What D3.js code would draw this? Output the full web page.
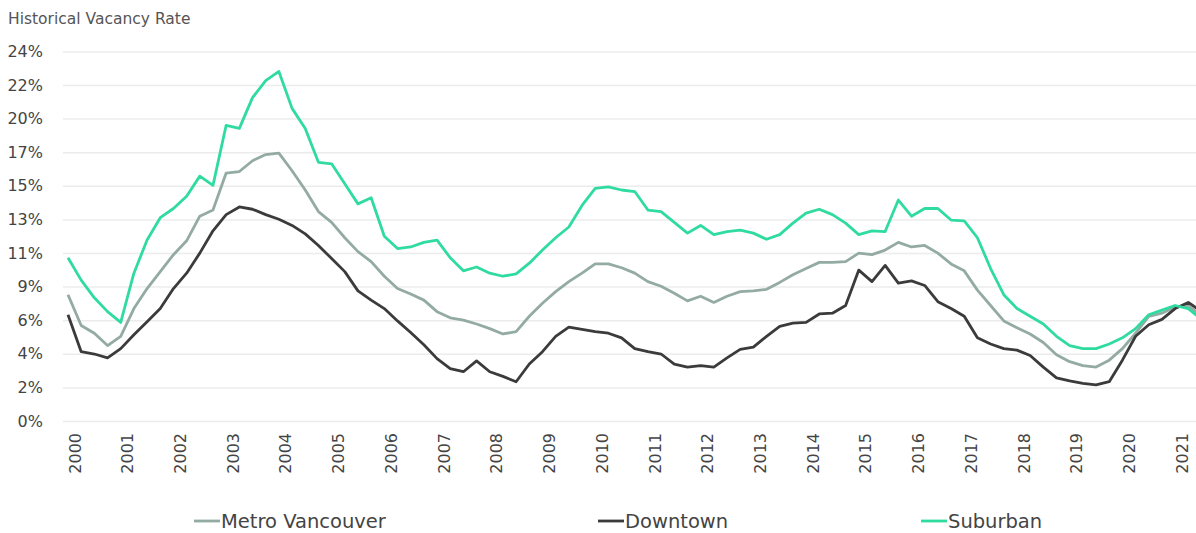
<!DOCTYPE html>
<html>
<head>
<meta charset="utf-8">
<script src="https://cdn.jsdelivr.net/npm/d3@7/dist/d3.min.js"></script>
<style>
  body { margin: 0; background: #fff; }
  svg { display: block; font-family: "DejaVu Sans", sans-serif; }
</style>
</head>
<body>
<script>
// quarterly readings, 2000 Q1 .. 2021 Q3
const years = [2000, 2001, 2002, 2003, 2004, 2005, 2006, 2007, 2008, 2009, 2010,
               2011, 2012, 2013, 2014, 2015, 2016, 2017, 2018, 2019, 2020, 2021];

const yTickLabels = ["0%", "2%", "4%", "6%", "9%", "11%", "13%", "15%", "17%", "20%", "22%", "24%"];

const metro = [
  8.2, 6.2, 5.7, 4.9,   5.5, 7.3, 8.6, 9.7,   10.8, 11.7, 13.3, 13.7,
  16.1, 16.2, 16.9, 17.3,   17.4, 16.25, 15.0, 13.6,   12.9, 11.9, 11.0, 10.35,
  9.4, 8.6, 8.25, 7.85,   7.1, 6.7, 6.55, 6.3,   6.0, 5.65, 5.8, 6.8,
  7.65, 8.4, 9.05, 9.6,   10.2, 10.2, 9.95, 9.6,   9.05, 8.75, 8.3, 7.8,
  8.1, 7.7, 8.1, 8.4,   8.45, 8.55, 9.0, 9.5,   9.9, 10.3, 10.3, 10.35,
  10.9, 10.8, 11.1, 11.6,   11.3, 11.4, 10.9, 10.2,   9.75, 8.5, 7.5, 6.5,
  6.05, 5.65, 5.1, 4.3,   3.85, 3.6, 3.5, 3.95,   4.7, 5.7, 6.8, 7.0,
  7.4, 7.5, 6.8
];

const downtown = [
  6.9, 4.5, 4.35, 4.1,   4.7, 5.6, 6.45, 7.3,   8.6, 9.6, 10.9, 12.35,
  13.4, 13.9, 13.75, 13.4,   13.1, 12.7, 12.15, 11.4,   10.55, 9.7, 8.45, 7.85,
  7.3, 6.5, 5.75, 4.95,   4.05, 3.4, 3.2, 3.9,   3.2, 2.9, 2.55, 3.7,
  4.5, 5.5, 6.1, 5.95,   5.8, 5.7, 5.4, 4.7,   4.5, 4.35, 3.7, 3.5,
  3.6, 3.5, 4.1, 4.65,   4.8, 5.5, 6.15, 6.35,   6.4, 6.95, 7.0, 7.5,
  9.8, 9.05, 10.1, 8.95,   9.1, 8.8, 7.75, 7.3,   6.8, 5.4, 5.0, 4.7,
  4.6, 4.25, 3.5, 2.8,   2.6, 2.45, 2.35, 2.55,   3.95, 5.5, 6.25, 6.6,
  7.3, 7.7, 7.1
];

const suburban = [
  10.6, 9.15, 8.0, 7.1,   6.4, 9.6, 11.75, 13.2,   13.8, 14.6, 15.9, 15.3,
  19.2, 19.0, 21.0, 22.1,   22.7, 20.3, 19.0, 16.8,   16.7, 15.4, 14.1, 14.5,
  12.0, 11.2, 11.3, 11.6,   11.75, 10.6, 9.75, 10.0,   9.6, 9.4, 9.55, 10.25,
  11.1, 11.9, 12.6, 14.0,   15.1, 15.2, 15.0, 14.9,   13.7, 13.6, 12.9, 12.2,
  12.7, 12.1, 12.3, 12.4,   12.2, 11.8, 12.1, 12.85,   13.5, 13.75, 13.4, 12.85,
  12.1, 12.35, 12.3, 14.35,   13.3, 13.8, 13.8, 13.05,   13.0, 11.9, 9.9, 8.2,
  7.3, 6.8, 6.3, 5.5,   4.9, 4.7, 4.7, 5.0,   5.4, 6.0, 6.9, 7.2,
  7.5, 7.3, 6.6
];

const series = [
  { name: "Metro Vancouver", values: metro, color: "#93aba3" },
  { name: "Downtown", values: downtown, color: "#3b3b3b" },
  { name: "Suburban", values: suburban, color: "#30dba0" }
];

const width = 1196, height = 533;
const plotLeft = 63, plotRight = 1196, plotTop = 51.4, plotBottom = 421;

const svg = d3.select("body").append("svg")
  .attr("width", width)
  .attr("height", height);

const x = d3.scaleLinear().domain([0, 86]).range([68, 68 + 86 * 13.18]);
const y = d3.scaleLinear().domain([0, 24]).range([plotBottom, plotTop]);
const yTicks = yTickLabels.map((d, i) => i * 24 / (yTickLabels.length - 1));

// title
svg.append("text")
  .attr("x", 8).attr("y", 24)
  .attr("font-size", 15.5)
  .attr("fill", "#555")
  .text("Historical Vacancy Rate");

// gridlines + y labels
const yAxis = svg.append("g")
  .attr("transform", `translate(${plotLeft},0)`)
  .call(d3.axisLeft(y)
    .tickValues(yTicks)
    .tickSize(-(plotRight - plotLeft))
    .tickPadding(20)
    .tickFormat((d, i) => yTickLabels[i]));
yAxis.select(".domain").remove();
yAxis.selectAll(".tick line").attr("stroke", "#ececec").attr("stroke-width", 1.5);
yAxis.selectAll(".tick text")
  .attr("font-size", 16)
  .attr("fill", "#444")
  .attr("font-family", "DejaVu Sans, sans-serif");

// x labels (rotated years)
svg.append("g").selectAll("text")
  .data(years)
  .join("text")
  .attr("transform", d => `translate(${x((d - 2000) * 4) + 7},433) rotate(-90)`)
  .attr("text-anchor", "end")
  .attr("dy", "0.35em")
  .attr("font-size", 16)
  .attr("fill", "#444")
  .text(d => d);

// lines
svg.append("clipPath").attr("id", "plot-clip")
  .append("rect")
  .attr("x", plotLeft).attr("y", 0)
  .attr("width", plotRight - plotLeft).attr("height", plotBottom + 10);

const line = d3.line()
  .x((d, i) => x(i))
  .y(d => y(d));

svg.append("g").attr("clip-path", "url(#plot-clip)")
  .selectAll("path")
  .data(series)
  .join("path")
  .attr("d", d => line(d.values))
  .attr("fill", "none")
  .attr("stroke", d => d.color)
  .attr("stroke-width", 2.8)
  .attr("stroke-linejoin", "round");

// legend
const legendX = [194, 598, 921];
const legend = svg.append("g").selectAll("g")
  .data(series)
  .join("g")
  .attr("transform", (d, i) => `translate(${legendX[i]},521)`);
legend.append("line")
  .attr("x1", 0).attr("x2", 26)
  .attr("stroke", d => d.color)
  .attr("stroke-width", 2.8);
legend.append("text")
  .attr("x", 27)
  .attr("dy", "0.35em")
  .attr("font-size", 19.5)
  .attr("fill", "#444")
  .text(d => d.name);
</script>
</body>
</html>
